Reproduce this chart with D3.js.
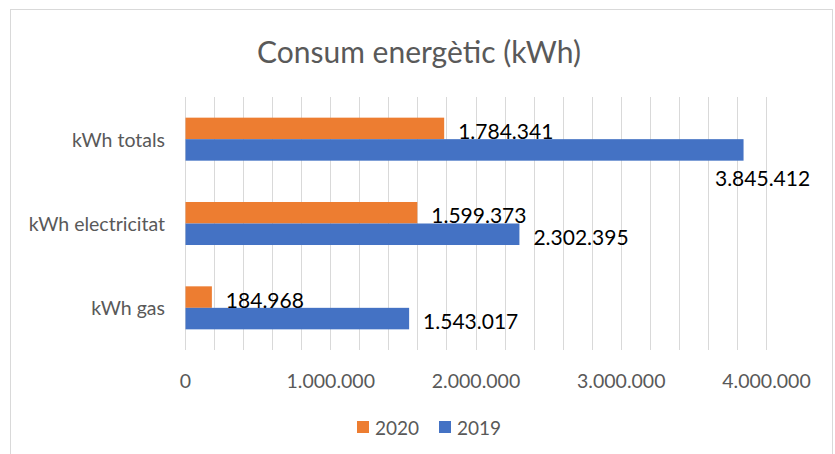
<!DOCTYPE html>
<html>
<head>
<meta charset="utf-8">
<script src="https://cdn.jsdelivr.net/npm/d3@7"></script>
<style>
  html, body { margin: 0; padding: 0; background: #fff; }
  svg { display: block; }
  text { font-family: Lato, "Open Sans", sans-serif; }
</style>
</head>
<body>
<svg id="chart" width="835" height="454"></svg>
<script>
// ---- data ----
const categories = ["kWh totals", "kWh electricitat", "kWh gas"];
const seriesNames = ["2020", "2019"];
const values2020 = [1784341, 1599373, 184968];
const values2019 = [3845412, 2302395, 1543017];
const xTicks = [0, 1000000, 2000000, 3000000, 4000000];
const xMax = 4000000;
const gridStep = 200000;
const seriesColors = ["#ED7D31", "#4472C4"];

// ---- layout ----
const W = 835, H = 454;
const plot = { left: 185, right: 766, top: 97, bottom: 350 };
const svg = d3.select("#chart");

const fmt = v => d3.format(",")(v).replace(/,/g, ".");

// frame
svg.append("rect")
  .attr("x", 10.5).attr("y", 9.5)
  .attr("width", 822).attr("height", 470)
  .attr("fill", "#fff").attr("stroke", "#d9d9d9").attr("stroke-width", 1);

// title
svg.append("text")
  .attr("x", 419).attr("y", 51)
  .attr("text-anchor", "middle").attr("dominant-baseline", "central")
  .attr("fill", "#595959").attr("font-size", 30)
  .text("Consum energètic (kWh)");

const x = d3.scaleLinear().domain([0, xMax]).range([plot.left, plot.right]);
const y = d3.scaleBand().domain(categories).range([plot.top, plot.bottom])
  .paddingInner(0.49).paddingOuter(0.245);
const ySub = d3.scaleBand().domain(seriesNames).range([0, y.bandwidth()]);

// gridlines
const gridVals = d3.range(0, xMax + 1, gridStep);
svg.append("g").selectAll("line").data(gridVals).join("line")
  .attr("x1", d => Math.round(x(d)) + 0.5).attr("x2", d => Math.round(x(d)) + 0.5)
  .attr("y1", plot.top).attr("y2", plot.bottom)
  .attr("stroke", "#d9d9d9").attr("stroke-width", 1);

// x axis labels
const xAxis = d3.axisBottom(x).tickValues(xTicks).tickFormat(fmt).tickSize(0).tickPadding(0);
const gx = svg.append("g").attr("transform", `translate(0, ${plot.bottom + 30})`).call(xAxis);
gx.select(".domain").remove();
gx.selectAll("text")
  .attr("fill", "#595959").attr("font-size", 19.5)
  .attr("font-family", "Lato, sans-serif")
  .attr("dy", null).attr("y", 0).attr("dominant-baseline", "central");

// y axis labels
const yAxis = d3.axisLeft(y).tickSize(0).tickPadding(20);
const gy = svg.append("g").attr("transform", `translate(${plot.left}, 0)`).call(yAxis);
gy.select(".domain").remove();
gy.selectAll("text")
  .attr("fill", "#595959").attr("font-size", 19.5)
  .attr("font-family", "Lato, sans-serif")
  .attr("dy", null).attr("dominant-baseline", "central");

// bars
const rows = categories.map((c, i) => ({ cat: c, vals: [values2020[i], values2019[i]] }));
const groups = svg.append("g").selectAll("g").data(rows).join("g")
  .attr("transform", d => `translate(0, ${y(d.cat)})`);

groups.selectAll("rect").data(d => d.vals.map((v, j) => ({ v, s: seriesNames[j], j })))
  .join("rect")
  .attr("x", x(0) + 0.5)
  .attr("y", d => ySub(d.s))
  .attr("width", d => x(d.v) - x(0) - 0.5)
  .attr("height", ySub.bandwidth())
  .attr("fill", d => seriesColors[d.j]);

// value labels
groups.each(function (row) {
  const g = d3.select(this);
  row.vals.forEach((v, j) => {
    const s = seriesNames[j];
    const t = g.append("text")
      .attr("font-size", 21).attr("fill", "#000")
      .attr("font-family", "Lato, sans-serif")
      .attr("dominant-baseline", "central")
      .text(fmt(v));
    const end = x(v);
    let lx = end + 14;
    let ly = ySub(s) + ySub.bandwidth() / 2 + 2;
    const w = t.node().getComputedTextLength();
    if (lx + w > plot.right) {
      // not enough room: place label below the bar end
      lx = end + 19 - w / 2;
      ly = ySub(s) + ySub.bandwidth() + 17;
    }
    t.attr("x", lx).attr("y", ly);
  });
});

// legend
const legend = svg.append("g").attr("transform", "translate(357, 427)");
const legendItems = [{ name: seriesNames[0], c: seriesColors[0], dx: 0 }, { name: seriesNames[1], c: seriesColors[1], dx: 82 }];
legendItems.forEach(it => {
  legend.append("rect").attr("x", it.dx).attr("y", -6).attr("width", 12).attr("height", 12).attr("fill", it.c);
  legend.append("text").attr("x", it.dx + 18).attr("y", 0)
    .attr("dominant-baseline", "central").attr("font-size", 19).attr("fill", "#595959")
    .text(it.name);
});
</script>
</body>
</html>
